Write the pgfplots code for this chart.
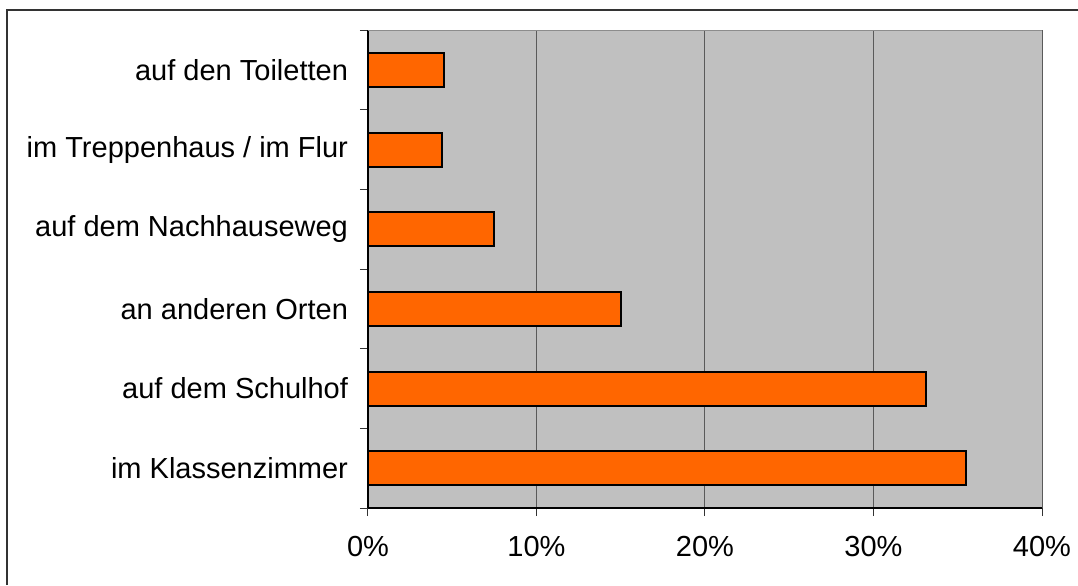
\documentclass[border=0pt]{standalone}
\usepackage{fontspec}
\setmainfont{Liberation Sans}
\usepackage{pgfplots}
\pgfplotsset{compat=1.18}
\definecolor{bgray}{HTML}{C0C0C0}
\definecolor{barorange}{HTML}{FF6600}
\definecolor{gridc}{HTML}{5A5A5A}
\begin{document}
\fontsize{14.5}{17}\selectfont
\begin{tikzpicture}
\useasboundingbox (0pt,0pt) rectangle (539pt,292.5pt);
\draw[line width=0.6pt,color=black!80] (3.5pt,0pt) -- (3.5pt,287.5pt) -- (539pt,287.5pt);
\begin{axis}[
  at={(184pt,38.5pt)}, anchor=south west,
  scale only axis, width=337pt, height=239pt,
  xbar, bar width=17pt,
  xmin=0, xmax=40, ymin=-0.5, ymax=5.5,
  xtick={0,10,20,30,40},
  xticklabel={\pgfmathprintnumber{\tick}\%},
  /pgf/number format/assume math mode=true,
  ytick={0,1,2,3,4,5},
  yticklabels={im Klassenzimmer, auf dem Schulhof, an anderen Orten, auf dem Nachhauseweg, im Treppenhaus / im Flur, auf den Toiletten},
  minor ytick={-0.5,0.5,1.5,2.5,3.5,4.5,5.5},
  major y tick style={draw=none},
  minor tick length=4pt,
  major tick length=4pt,
  tick align=outside,
  tick style={color=black!80, line width=0.5pt},
  xmajorgrids, grid style={color=gridc, line width=0.5pt},
  axis x line*=bottom, axis y line*=left,
  axis line style={-, black, line width=0.6pt},
  axis background/.style={fill=bgray},
  yticklabel style={font=\fontsize{14.5}{17}\selectfont, xshift=-1pt},
  xticklabel style={font=\fontsize{14.5}{17}\selectfont, yshift=-5pt},
  clip=false,
]
\draw[color=black!45, line width=0.5pt] (axis cs:0,5.5) -- (axis cs:40,5.5);
\addplot[fill=barorange, draw=black, line width=1pt] coordinates {
  (35.5,0) (33.1,1) (15.0,2) (7.5,3) (4.4,4) (4.5,5)
};
\end{axis}
\end{tikzpicture}
\end{document}
